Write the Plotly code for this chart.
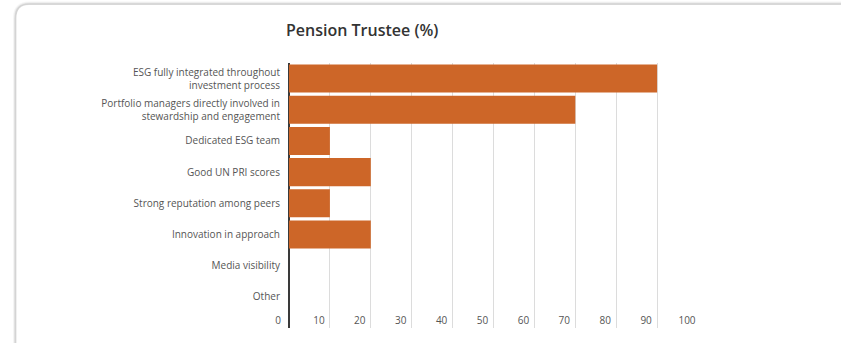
import plotly.graph_objects as go

# Survey responses, pension trustees (%)
categories = [
    "ESG fully integrated throughout<br>investment process",
    "Portfolio managers directly involved in<br>stewardship and engagement",
    "Dedicated ESG team",
    "Good UN PRI scores",
    "Strong reputation among peers",
    "Innovation in approach",
    "Media visibility",
    "Other",
]
values = [90, 70, 10, 20, 10, 20, 0, 0]
x_ticks = [0, 10, 20, 30, 40, 50, 60, 70, 80, 90, 100]

W, H = 841, 343
L, R, T, B = 289, 143, 63, 15
pw, ph = W - L - R, H - T - B


def px(x):
    return (x - L) / pw


def py(y):
    return (H - B - y) / ph


def rounded_card(x0, y0, x1, y1, r):
    # rounded rectangle path in paper coords, built from pixel positions
    return (
        f"M {px(x0 + r)},{py(y0)} L {px(x1)},{py(y0)} L {px(x1)},{py(y1)} "
        f"L {px(x0 + r)},{py(y1)} Q {px(x0)},{py(y1)} {px(x0)},{py(y1 - r)} "
        f"L {px(x0)},{py(y0 + r)} Q {px(x0)},{py(y0)} {px(x0 + r)},{py(y0)} Z"
    )


fig = go.Figure(
    go.Bar(
        x=values,
        y=categories,
        orientation="h",
        marker=dict(color="#CD6628", line=dict(width=0)),
        width=0.9,
    )
)

shapes = []
# soft card shadow
for c, w in [("rgba(0,0,0,0.04)", 5), ("rgba(0,0,0,0.06)", 3), ("rgba(0,0,0,0.08)", 1.5)]:
    shapes.append(dict(
        type="path", xref="paper", yref="paper",
        path=rounded_card(15.5, 4, 860, 362, 14),
        line=dict(color=c, width=w), fillcolor="rgba(0,0,0,0)", layer="below",
    ))
shapes.append(dict(
    type="path", xref="paper", yref="paper",
    path=rounded_card(16.5, 5, 860, 362, 13),
    line=dict(width=0), fillcolor="white", layer="below",
))

FONT = "Open Sans, Noto Sans, sans-serif"

fig.update_layout(
    width=W, height=H,
    margin=dict(l=L, r=R, t=T, b=B, pad=0),
    paper_bgcolor="white",
    plot_bgcolor="rgba(0,0,0,0)",
    showlegend=False,
    bargap=0.1,
    shapes=shapes,
    font=dict(family=FONT, color="#555", size=10),
    title=dict(
        text="Pension Trustee (%)",
        x=286 / W, xanchor="left", xref="container",
        y=1 - 30 / H, yanchor="middle", yref="container",
        font=dict(family=FONT, size=16, color="#333", weight=600),
    ),
    xaxis=dict(
        range=[0, 100],
        tickvals=x_ticks,
        ticktext=[str(v) for v in x_ticks],
        showgrid=True, gridcolor="#dcdcdc", gridwidth=1,
        zeroline=True, zerolinecolor="#3a3a3a", zerolinewidth=2,
        showline=False, ticks="",
        ticklabelposition="outside",
        ticklabelstandoff=-15,
        ticklabelshift=-11,
        tickfont=dict(size=10, color="#555"),
        fixedrange=True,
    ),
    yaxis=dict(
        range=[8.0, -0.5],
        showgrid=False, zeroline=False, showline=False, ticks="",
        ticklabelstandoff=8,
        tickfont=dict(size=10, color="#555"),
        fixedrange=True,
    ),
)

fig.write_html("out.html")
